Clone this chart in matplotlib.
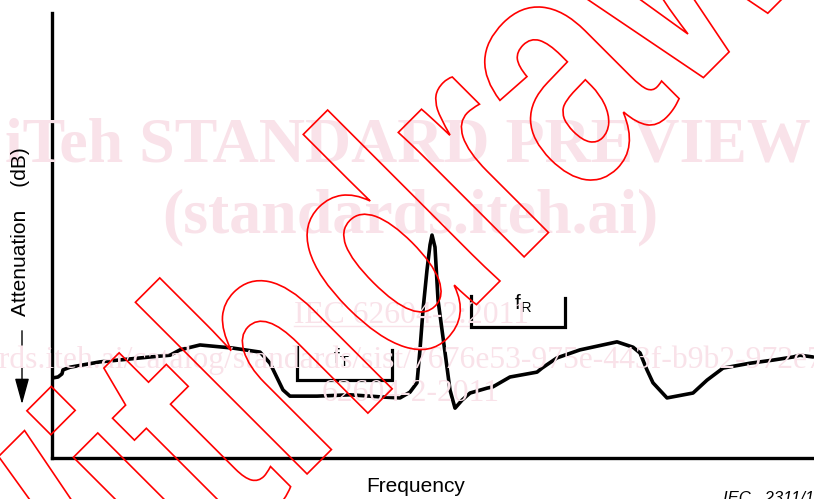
import matplotlib
matplotlib.use("Agg")
import matplotlib.pyplot as plt
from matplotlib.textpath import TextPath
from matplotlib.font_manager import FontProperties
from matplotlib.patches import PathPatch
from matplotlib.transforms import Affine2D
from matplotlib.lines import Line2D

plt.rcParams['font.family'] = ['Liberation Sans', 'DejaVu Sans']
plt.rcParams['mathtext.fontset'] = 'custom'
plt.rcParams['mathtext.rm'] = 'Liberation Sans'

# attenuation response, arbitrary units (frequency 0..100, attenuation 0..100)
freq = [0.13, 0.79, 1.31, 1.44, 2.36, 6.30, 12.86, 15.49, 16.80, 19.42,
        23.75, 27.30, 28.61, 30.31, 31.23, 34.78, 39.11, 43.44, 45.67, 46.98,
        47.90, 48.29, 48.69, 49.21, 49.61, 49.87, 50.26, 50.66, 51.18, 51.71,
        52.23, 52.89, 53.81, 54.86, 57.09, 57.87, 60.10, 63.65, 64.30, 66.27,
        69.29, 74.15, 76.25, 77.17, 78.08, 78.87, 80.71, 84.12, 85.96, 88.06,
        91.60, 94.62, 97.24, 98.16, 99.87]
atten = [18.0, 18.2, 18.9, 19.8, 20.4, 21.6, 22.7, 23.1, 24.3, 25.4,
         24.7, 23.8, 21.3, 15.3, 13.9, 13.9, 14.2, 13.7, 13.5, 14.8,
         16.9, 24.3, 33.3, 42.2, 47.9, 50.1, 47.4, 35.5, 28.8, 22.0,
         15.3, 11.2, 13.0, 14.6, 15.7, 16.0, 18.2, 19.3, 20.2, 22.5,
         24.3, 26.1, 24.9, 23.6, 19.8, 16.9, 13.5, 14.6, 17.5, 20.2,
         21.3, 22.0, 22.7, 23.1, 22.7]

# band brackets: (left, right, bottom, left top, right top)
band_T = [32.15, 44.6, 17.5, 24.9, 24.3]
band_R = [55.0, 67.3, 29.4, 36.4, 36.0]

W, H = 814, 499
fig = plt.figure(figsize=(W / 100, H / 100), dpi=100)
fig.patch.set_facecolor('white')

def fx(px):
    return px / W

def fy(py):
    return 1 - py / H

pink = '#f9e2e9'
wm = 22.8

# watermark text (behind)
fig.text(fx(408), fy(162), 'iTeh STANDARD PREVIEW', fontsize=46, color=pink,
         family='Liberation Serif', weight='bold', ha='center', va='baseline', zorder=0)
fig.text(fx(410), fy(232), '(standards.iteh.ai)', fontsize=46, color=pink,
         family='Liberation Serif', weight='bold', ha='center', va='baseline', zorder=0)
iec = fig.text(fx(411), fy(323), 'IEC 62604-2:2011', fontsize=wm, color=pink,
               family='Liberation Serif', ha='center', va='baseline', zorder=0)
fig.text(fx(-169), fy(368),
         'https://standards.iteh.ai/catalog/standards/sist/7676e53-975e-443f-b9b2-972e7ad3a7b6/iec-62604-2-2011',
         fontsize=wm, color=pink, family='Liberation Serif', ha='left', va='baseline', zorder=0)
fig.text(fx(411), fy(401), '62604-2-2011', fontsize=wm, color=pink,
         family='Liberation Serif', ha='center', va='baseline', zorder=0)

ax = fig.add_axes([52 / W, (H - 458) / H, 1 - 52 / W, (458 - 13) / H])
ax.patch.set_alpha(0)
ax.set_xlim(0, 100)
ax.set_ylim(0, 100)
for s in ['top', 'right']:
    ax.spines[s].set_visible(False)
for s in ['left', 'bottom']:
    ax.spines[s].set_linewidth(2.4)
ax.set_xticks([])
ax.set_yticks([])

ax.plot(freq, atten, color='black', lw=2.6, solid_joinstyle='round',
        solid_capstyle='round', clip_on=False, zorder=3)

for b in (band_T, band_R):
    ax.plot([b[0], b[0], b[1], b[1]], [b[3], b[2], b[2], b[4]],
            color='black', lw=2.3, solid_joinstyle='miter', zorder=3)

ax.text(band_T[0] + 5.8, band_T[2] + 5.0, r'f$_\mathregular{T}$', fontsize=15,
        ha='center', va='center', zorder=4)
ax.text(band_R[0] + 6.8, band_R[2] + 5.3, r'f$_\mathregular{R}$', fontsize=15,
        ha='center', va='center', zorder=4)

fig.text(fx(21), fy(232), 'Attenuation    (dB)', fontsize=15, rotation=90,
         ha='center', va='center')
ax.annotate('', xy=(fx(22), fy(407)), xycoords='figure fraction',
            xytext=(fx(22), fy(328)), textcoords='figure fraction',
            arrowprops=dict(arrowstyle='-|>,head_length=0.8,head_width=0.22',
                            color='black', lw=1.0, mutation_scale=20),
            annotation_clip=False)
fig.text(fx(416), fy(492), 'Frequency', fontsize=15, ha='center', va='baseline')
fig.text(fx(723), fy(491), 'IEC   2311/11', fontsize=12, style='italic',
         ha='left', va='top')

# underline of the IEC watermark
fig.canvas.draw()
bb = iec.get_window_extent()
fig.add_artist(Line2D([bb.x0 / W, bb.x1 / W], [fy(326), fy(326)],
                      transform=fig.transFigure, color=pink, lw=1.0, zorder=0))

# red outlined "Withdrawn" stamp
tp = TextPath((0, 0), 'Withdrawn', size=335,
              prop=FontProperties(family='Liberation Sans', weight='bold'))
tr = Affine2D().scale(0.75, 1.0).rotate_deg(45).translate(20, -262)
stamp = PathPatch(tr.transform_path(tp), facecolor='none', edgecolor='#ff0000',
                  lw=1.2, zorder=10)
stamp.set_transform(Affine2D())
fig.add_artist(stamp)

fig.savefig('out.png', dpi=100, facecolor='white')
